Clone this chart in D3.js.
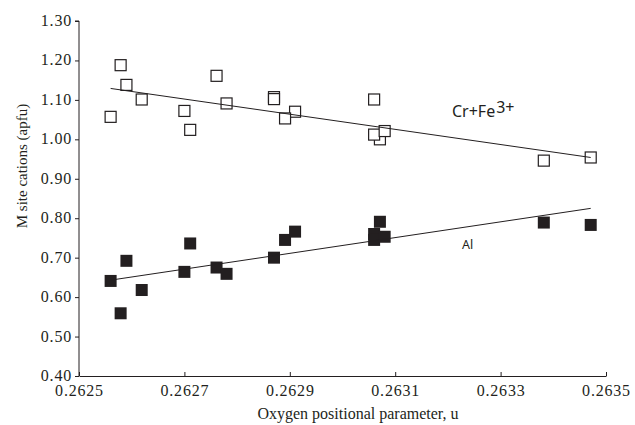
<!DOCTYPE html>
<html>
<head>
<meta charset="utf-8">
<script src="https://cdn.jsdelivr.net/npm/d3@7"></script>
<style>
  html, body { margin: 0; padding: 0; background: #fff; }
  svg { display: block; }
</style>
</head>
<body>
<svg id="chart" width="635" height="425"></svg>
<script>
// ---- data ----
const xTicks = [0.2625, 0.2627, 0.2629, 0.2631, 0.2633, 0.2635];
const yTicks = [0.40, 0.50, 0.60, 0.70, 0.80, 0.90, 1.00, 1.10, 1.20, 1.30];

// Cr+Fe3+ (open squares)
const crU = [0.262560, 0.262579, 0.262590, 0.262619, 0.262700, 0.262711, 0.262761, 0.262780,
             0.262870, 0.262870, 0.262910, 0.262891, 0.263060, 0.263071, 0.263060, 0.263080,
             0.263382, 0.263471];
const crV = [1.057, 1.188, 1.138, 1.101, 1.072, 1.024, 1.161, 1.091,
             1.107, 1.102, 1.070, 1.053, 1.101, 1.000, 1.012, 1.021,
             0.946, 0.954];

// Al (filled squares)
const alU = [0.262560, 0.262579, 0.262590, 0.262619, 0.262700, 0.262711, 0.262761, 0.262780,
             0.262870, 0.262891, 0.262910, 0.263060, 0.263060, 0.263080, 0.263071,
             0.263382, 0.263471];
const alV = [0.641, 0.559, 0.692, 0.618, 0.664, 0.736, 0.675, 0.659,
             0.700, 0.745, 0.766, 0.760, 0.745, 0.753, 0.791,
             0.789, 0.783];

// trend line end points
const trendU = [0.262560, 0.263471];
const crTrend = [1.129, 0.954];
const alTrend = [0.643, 0.825];

// ---- drawing ----
const ink = "#231f20";
const svg = d3.select("#chart");
const m = { left: 79, top: 21, right: 606, bottom: 376 };

const x = d3.scaleLinear().domain([0.2625, 0.2635]).range([m.left, m.right]);
const y = d3.scaleLinear().domain([0.40, 1.30]).range([m.bottom, m.top]);

const serif = "'Liberation Serif', 'Times New Roman', serif";

// Y axis
const yAxis = svg.append("g")
  .attr("transform", `translate(${m.left},0)`)
  .call(d3.axisLeft(y).tickValues(yTicks).tickFormat(d3.format(".2f")).tickSize(4).tickPadding(3));
// X axis
const xAxis = svg.append("g")
  .attr("transform", `translate(0,${m.bottom})`)
  .call(d3.axisBottom(x).tickValues(xTicks).tickFormat(d3.format(".4f")).tickSizeInner(-4).tickSizeOuter(0).tickPadding(8));

[yAxis, xAxis].forEach(g => {
  g.select(".domain").attr("stroke", ink).attr("stroke-width", 1);
  g.selectAll(".tick line").attr("stroke", ink).attr("stroke-width", 1);
  g.selectAll(".tick text")
    .attr("fill", ink)
    .style("font-family", serif)
    .style("font-size", "16px")
    .style("letter-spacing", "0.8px");
});
yAxis.select(".domain").attr("d", `M-4,${m.top}H0V${m.bottom}`);
yAxis.selectAll(".tick text").attr("dy", "0.28em");
xAxis.selectAll(".tick text").attr("y", 9).attr("dy", "0.71em");

// axis titles
svg.append("text")
  .attr("x", 358).attr("y", 419)
  .attr("text-anchor", "middle")
  .attr("fill", ink)
  .style("font-family", serif).style("font-size", "16px")
  .text("Oxygen positional parameter, u");

svg.append("text")
  .attr("transform", "translate(27,166) rotate(-90)")
  .attr("text-anchor", "middle")
  .attr("fill", ink)
  .style("font-family", serif).style("font-size", "15px")
  .text("M site cations (apfu)");

const sz = 11;
// open squares
svg.append("g").selectAll("rect")
  .data(crU.map((u, i) => ({ u, v: crV[i] })))
  .join("rect")
  .attr("x", d => x(d.u) - sz / 2)
  .attr("y", d => y(d.v) - sz / 2)
  .attr("width", sz).attr("height", sz)
  .attr("fill", "#fff").attr("stroke", ink).attr("stroke-width", 1.2);

// filled squares
svg.append("g").selectAll("rect")
  .data(alU.map((u, i) => ({ u, v: alV[i] })))
  .join("rect")
  .attr("x", d => x(d.u) - (sz + 1) / 2)
  .attr("y", d => y(d.v) - (sz + 1) / 2)
  .attr("width", sz + 1).attr("height", sz + 1)
  .attr("fill", ink);

// trend lines
const line = d3.line().x(d => x(d[0])).y(d => y(d[1]));
svg.append("path")
  .attr("d", line(trendU.map((u, i) => [u, crTrend[i]])))
  .attr("fill", "none").attr("stroke", ink).attr("stroke-width", 1);
svg.append("path")
  .attr("d", line(trendU.map((u, i) => [u, alTrend[i]])))
  .attr("fill", "none").attr("stroke", ink).attr("stroke-width", 1);

// series labels
const sans = "'Noto Sans', 'Open Sans', sans-serif";
const lab = svg.append("text")
  .attr("x", 452).attr("y", 117)
  .attr("fill", ink)
  .style("font-family", sans).style("font-size", "16px");
lab.append("tspan").text("Cr+Fe");
lab.append("tspan").attr("dx", 1).attr("dy", -4).text("3+");

svg.append("text")
  .attr("x", 462).attr("y", 249)
  .attr("fill", ink)
  .style("font-family", sans).style("font-size", "12.5px")
  .text("Al");
</script>
</body>
</html>
